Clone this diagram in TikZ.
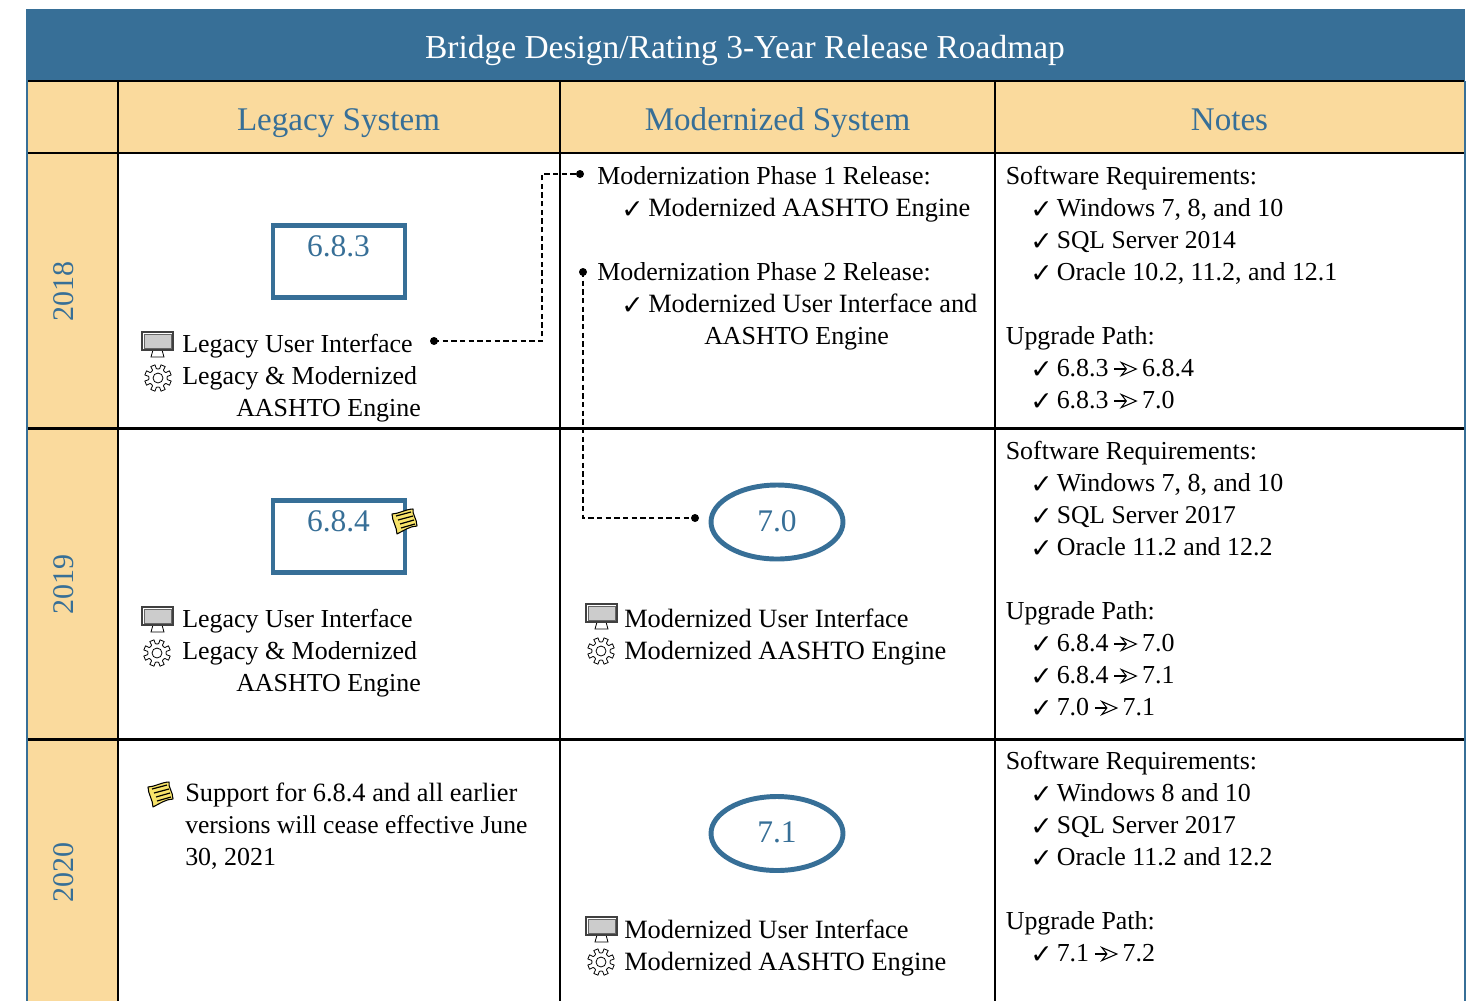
\documentclass[tikz,border=0pt]{standalone}
\usepackage{fontspec}
\setmainfont{Liberation Serif}
\newfontfamily\symfont{DejaVu Sans}
\usetikzlibrary{shapes.geometric}
\definecolor{hblue}{HTML}{376F97}
\definecolor{cream}{HTML}{FADA9D}
\definecolor{notey}{HTML}{F7E36A}
\newcounter{tn}
\newcommand{\bodysize}{\fontsize{19.45}{24}\selectfont}
\newcommand{\T}[3]{\stepcounter{tn}\node[txt] (t\thetn) at (#1,#2) {#3};}
\newcommand{\Chk}[2]{\stepcounter{tn}\node[chk] (t\thetn) at (#1,#2) {✓};}
\newcommand{\Upa}{\hspace{3.8pt}\tikz[baseline=0pt,x=0.75pt,y=-0.75pt]{\draw[line width=0.9pt] (0,-7)--(13,-7);\draw[line width=0.8pt,line join=miter,fill=white] (7,-13.5)--(22,-7)--(7,-0.5)--(12,-7)--cycle;}\hspace{4pt}}
\tikzset{
 txt/.style={anchor=base west,inner sep=0pt,font=\bodysize,text=black},
 chk/.style={anchor=base west,inner sep=0pt,font=\symfont\fontsize{20}{24}\selectfont,text=black},
 grid/.style={line width=1.9pt,draw=black},
 head/.style={anchor=base,inner sep=0pt,font=\fontsize{24.8}{28}\selectfont,text=hblue},
 vers/.style={anchor=base,inner sep=0pt,font=\fontsize{23.6}{28}\selectfont,text=hblue},
 yearlab/.style={rotate=90,inner sep=0pt,font=\fontsize{22.5}{28}\selectfont,text=hblue},
 relbox/.style={draw=hblue,line width=3.7pt,minimum width=99pt,minimum height=53.5pt,inner sep=0pt,fill=white},
 relell/.style={ellipse,draw=hblue,line width=3.7pt,minimum width=99pt,minimum height=55.5pt,inner sep=0pt,fill=white},
 dotn/.style={circle,fill=black,inner sep=0pt,minimum size=6pt},
 dashline/.style={line width=1.2pt,draw=black,dash pattern=on 4pt off 2.5pt},
 pics/monitor/.style={code={
  \draw[line width=.6pt,fill=white] (11,18)--(20,18)--(22,25)--(9,25)--cycle;
  \draw[line width=.8pt,draw=black!75,fill=white] (0,0) rectangle (31,18);
  \draw[line width=.6pt,draw=black!60,fill=black!20] (2,2) rectangle (29,16);
 }},
 pics/gearicon/.style={code={
  \draw[line width=.6pt,fill=white,line join=round]
   (0:9) -- (10:9.5) -- (13:13.5) -- (32:13.5) -- (35:9.5) -- (45:9) -- (55:9.5) -- (58:13.5) -- (77:13.5) -- (80:9.5)
   -- (90:9) -- (100:9.5) -- (103:13.5) -- (122:13.5) -- (125:9.5) -- (135:9) -- (145:9.5) -- (148:13.5) -- (167:13.5) -- (170:9.5)
   -- (180:9) -- (190:9.5) -- (193:13.5) -- (212:13.5) -- (215:9.5) -- (225:9) -- (235:9.5) -- (238:13.5) -- (257:13.5) -- (260:9.5)
   -- (270:9) -- (280:9.5) -- (283:13.5) -- (302:13.5) -- (305:9.5) -- (315:9) -- (325:9.5) -- (328:13.5) -- (347:13.5) -- (350:9.5) -- cycle;
  \draw[line width=.6pt] (0,0) circle (5);
 }},
 pics/noteicon/.style={code={
  \draw[line width=.8pt,fill=notey,line join=round] (-12,-7) .. controls (-6,-7) and (2,-12) .. (9,-12)
    .. controls (8,-7) and (13,-2) .. (13,5)
    .. controls (6,5) and (-1,10) .. (-7,13)
    .. controls (-7,6) and (-12,0) .. (-12,-7) -- cycle;
  \foreach \a/\b/\c/\d in {-8/-5/7/-9, -6/-1/9/-5, -4/3/10/-1, -3/7/11/3}{
   \draw[line width=.9pt] (\a,\b)--(\c,\d);}
 }}
}
\newcommand{\wide}{\fontsize{19.8}{24}\selectfont}
\newcommand{\narrow}{\fontsize{19.2}{24}\selectfont}
\begin{document}
\begin{tikzpicture}[x=0.75pt,y=-0.75pt]
\useasboundingbox (0,0) rectangle (1477,1001);
% backgrounds
\fill[hblue] (26,9) rectangle (1465,81);
\fill[cream] (28,81) rectangle (1464,153);
\fill[cream] (28,153) rectangle (118,1001);
\draw[hblue,line width=1.5pt] (27,81)--(27,1001);
\draw[hblue,line width=1.5pt] (1464.5,81)--(1464.5,1001);
% grid
\coordinate (gl1) at (28,81); \coordinate (gr1) at (1464,81);
\coordinate (gl2) at (28,153); \coordinate (gr2) at (1464,153);
\coordinate (gl3) at (28,428.5); \coordinate (gr3) at (1464,428.5);
\coordinate (gl4) at (28,739.5); \coordinate (gr4) at (1464,739.5);
\coordinate (gt1) at (118,81); \coordinate (gb1) at (118,1001);
\coordinate (gt2) at (560,81); \coordinate (gb2) at (560,1001);
\coordinate (gt3) at (995,81); \coordinate (gb3) at (995,1001);
\foreach \n in {1,2,3,4}{\draw[grid] (gl\n)--(gr\n);}
\foreach \n in {1,2,3}{\draw[grid] (gt\n)--(gb\n);}
% titles
\node[anchor=base,inner sep=0pt,font=\fontsize{25.1}{28}\selectfont,text=white] (title) at (745,58) {Bridge Design/Rating 3-Year Release Roadmap};
\node[head] (h1) at (338.5,130) {Legacy System};
\node[head] (h2) at (777.5,130) {Modernized System};
\node[head] (h3) at (1229.5,130) {Notes};
\node[yearlab] (y1) at (64,291) {2018};
\node[yearlab] (y2) at (64,584) {2019};
\node[yearlab] (y3) at (64,872) {2020};
% release shapes
\node[relbox] (b683) at (339,261.5) {};
\node[relbox] (b684) at (339,536.5) {};
\node[relell] (e70) at (777,522) {};
\node[relell] (e71) at (777,833.5) {};
\node[vers] (v683) at (338.5,256) {6.8.3};
\node[vers] (v684) at (338.5,531) {6.8.4};
\node[vers] (v70) at (777,531) {7.0};
\node[vers] (v71) at (777,842) {7.1};
% icons
\pic at (142,332) {monitor};
\pic at (142,607) {monitor};
\pic at (586,604) {monitor};
\pic at (586,917) {monitor};
\pic at (158,378) {gearicon};
\pic at (157,653) {gearicon};
\pic at (601,651) {gearicon};
\pic at (601,962) {gearicon};
\pic at (404,521) {noteicon};
\pic at (160,794) {noteicon};
% legacy text
\T{182}{352}{Legacy User Interface}
\T{182}{384}{Legacy \& Modernized}
\T{236}{416}{AASHTO Engine}
\T{182}{627}{Legacy User Interface}
\T{182}{659}{Legacy \& Modernized}
\T{236}{691}{AASHTO Engine}
\T{185}{801}{\wide Support for 6.8.4 and all earlier}
\T{185}{833}{\narrow versions will cease effective June}
\T{185}{865}{30, 2021}
% modernized text
\T{597}{184}{Modernization Phase 1 Release:}
\Chk{621}{218}\T{648}{216}{\wide Modernized AASHTO Engine}
\T{597}{280}{Modernization Phase 2 Release:}
\Chk{621}{314}\T{648}{312}{\wide Modernized User Interface and}
\T{704}{344}{AASHTO Engine}
\T{624}{627}{\wide Modernized User Interface}
\T{624}{659}{\wide Modernized AASHTO Engine}
\T{624}{938}{\wide Modernized User Interface}
\T{624}{970}{\wide Modernized AASHTO Engine}
% notes text
\T{1005.5}{184}{Software Requirements:}
\Chk{1030}{218}\T{1056.5}{216}{Windows 7, 8, and 10}
\Chk{1030}{250}\T{1056.5}{248}{\narrow SQL Server 2014}
\Chk{1030}{282}\T{1056.5}{280}{Oracle 10.2, 11.2, and 12.1}
\T{1005.5}{344}{Upgrade Path:}
\Chk{1030}{378}\T{1056.5}{376}{6.8.3\Upa 6.8.4}
\Chk{1030}{410}\T{1056.5}{408}{6.8.3\Upa 7.0}
\T{1005.5}{459}{Software Requirements:}
\Chk{1030}{493}\T{1056.5}{491}{Windows 7, 8, and 10}
\Chk{1030}{525}\T{1056.5}{523}{\narrow SQL Server 2017}
\Chk{1030}{557}\T{1056.5}{555}{Oracle 11.2 and 12.2}
\T{1005.5}{619}{Upgrade Path:}
\Chk{1030}{653}\T{1056.5}{651}{6.8.4\Upa 7.0}
\Chk{1030}{685}\T{1056.5}{683}{6.8.4\Upa 7.1}
\Chk{1030}{717}\T{1056.5}{715}{7.0\Upa 7.1}
\T{1005.5}{769}{Software Requirements:}
\Chk{1030}{803}\T{1056.5}{801}{Windows 8 and 10}
\Chk{1030}{835}\T{1056.5}{833}{\narrow SQL Server 2017}
\Chk{1030}{867}\T{1056.5}{865}{Oracle 11.2 and 12.2}
\T{1005.5}{929}{Upgrade Path:}
\Chk{1030}{963}\T{1056.5}{961}{7.1\Upa 7.2}
% connectors
\node[dotn] (d1a) at (434,341) {};
\node[dotn] (d1b) at (580,174) {};
\node[dotn] (d2a) at (583,272) {};
\node[dotn] (d2b) at (695,518) {};
\coordinate (k1) at (542,341);
\draw[dashline] (d1a.center)--(k1)|-(d1b.center);
\draw[dashline] (d2a.center)|-(d2b.center);
\end{tikzpicture}
\end{document}
